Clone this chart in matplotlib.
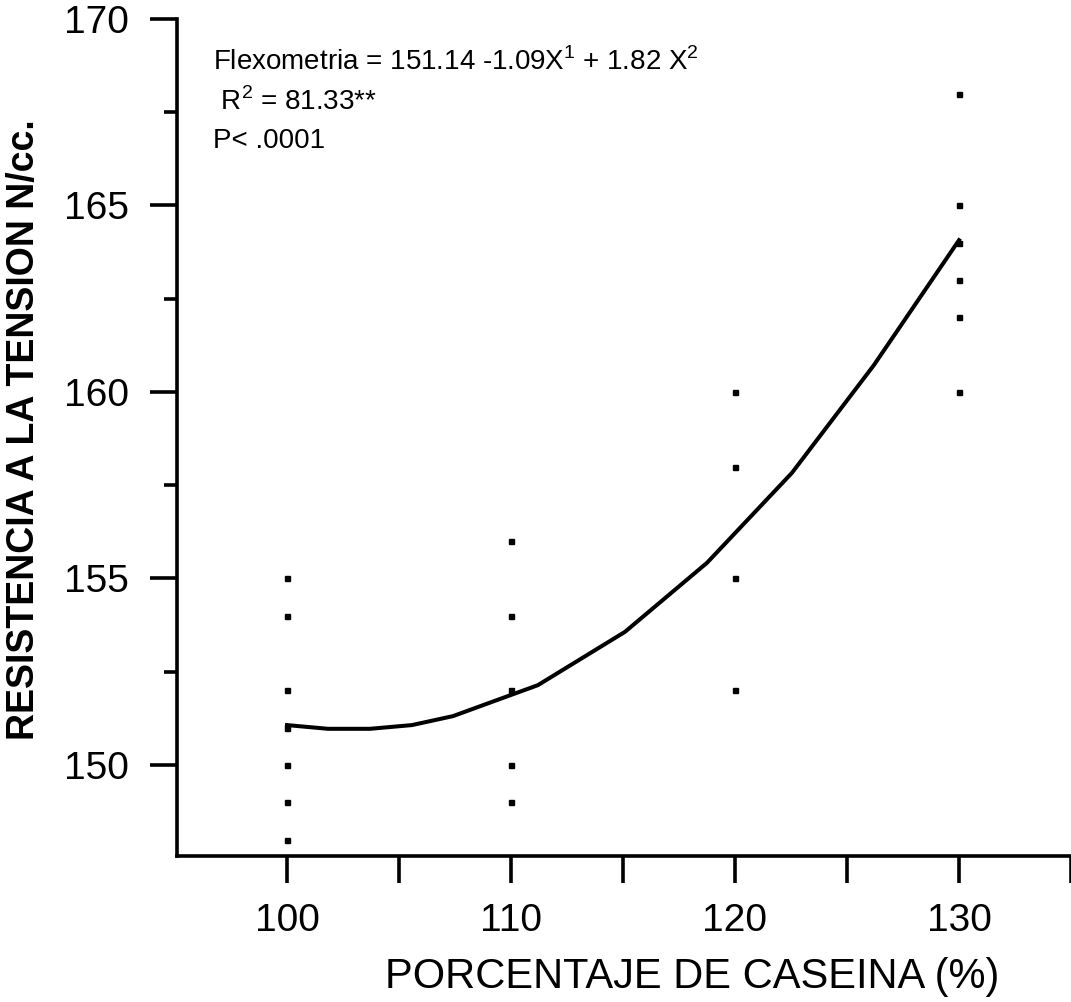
import matplotlib.pyplot as plt
from matplotlib.ticker import MultipleLocator

# observed points (casein %, tension N/cc)
pts_x = [100] * 7 + [110] * 5 + [120] * 4 + [130] * 6
pts_y = [155, 154, 152, 151, 150, 149, 148,
         156, 154, 152, 150, 149,
         160, 158, 155, 152,
         168, 165, 164, 163, 162, 160]

# fitted curve
fit_x = [100, 101.83, 103.7, 105.58, 107.41, 111.2, 115.09, 118.75, 122.54, 126.2, 130]
fit_y = [151.07, 150.97, 150.97, 151.07, 151.31, 152.14, 153.57, 155.42, 157.83, 160.72, 164.07]

eq_lines = [
    r"Flexometria = 151.14 -1.09X$^{\mathregular{1}}$ + 1.82 X$^{\mathregular{2}}$",
    r" R$^{\mathregular{2}}$ = 81.33**",
    "P< .0001",
]

plt.rcParams["font.family"] = ["Liberation Sans", "DejaVu Sans"]

W, H = 1071, 1002
fig = plt.figure(figsize=(W / 100, H / 100), dpi=100)
ax = fig.add_axes([177 / W, 1 - 856 / H, 1 - 177 / W, (856 - 19) / H])

ax.plot(fit_x, fit_y, color="black", linewidth=2.9)
ax.plot(pts_x, pts_y, linestyle="none", marker="s", markersize=3.6, color="black")

ax.set_xlim(95.09, 135)
ax.set_ylim(147.56, 170)

ax.xaxis.set_major_locator(MultipleLocator(10))
ax.xaxis.set_minor_locator(MultipleLocator(5))
ax.yaxis.set_major_locator(MultipleLocator(5))
ax.yaxis.set_minor_locator(MultipleLocator(2.5))

for side in ["top", "right"]:
    ax.spines[side].set_visible(False)
for side in ["left", "bottom"]:
    ax.spines[side].set_linewidth(2.6)

ax.tick_params(axis="both", which="major", direction="out", length=19.5, width=2.6,
               labelsize=28)
ax.tick_params(axis="x", which="major", pad=14)
ax.tick_params(axis="y", which="major", pad=15)
ax.tick_params(axis="y", which="minor", direction="out", length=9.5, width=2.6)
ax.tick_params(axis="x", which="minor", direction="out", length=19.5, width=2.6)

ax.set_xlabel("PORCENTAJE DE CASEINA (%)", fontsize=30)
ax.xaxis.set_label_coords((692 - 177) / 894, -(957 - 856) / 837)
ax.set_ylabel("RESISTENCIA A LA TENSION N/cc.", fontsize=27, fontweight="bold")
ax.yaxis.set_label_coords((42 - 177) / 894, (856 - 430) / 837)

for text, base in zip(eq_lines, [70, 110, 148]):
    fig.text(213 / W, 1 - base / H, text, fontsize=20,
             ha="left", va="baseline")

fig.savefig("out.png", dpi=100)
